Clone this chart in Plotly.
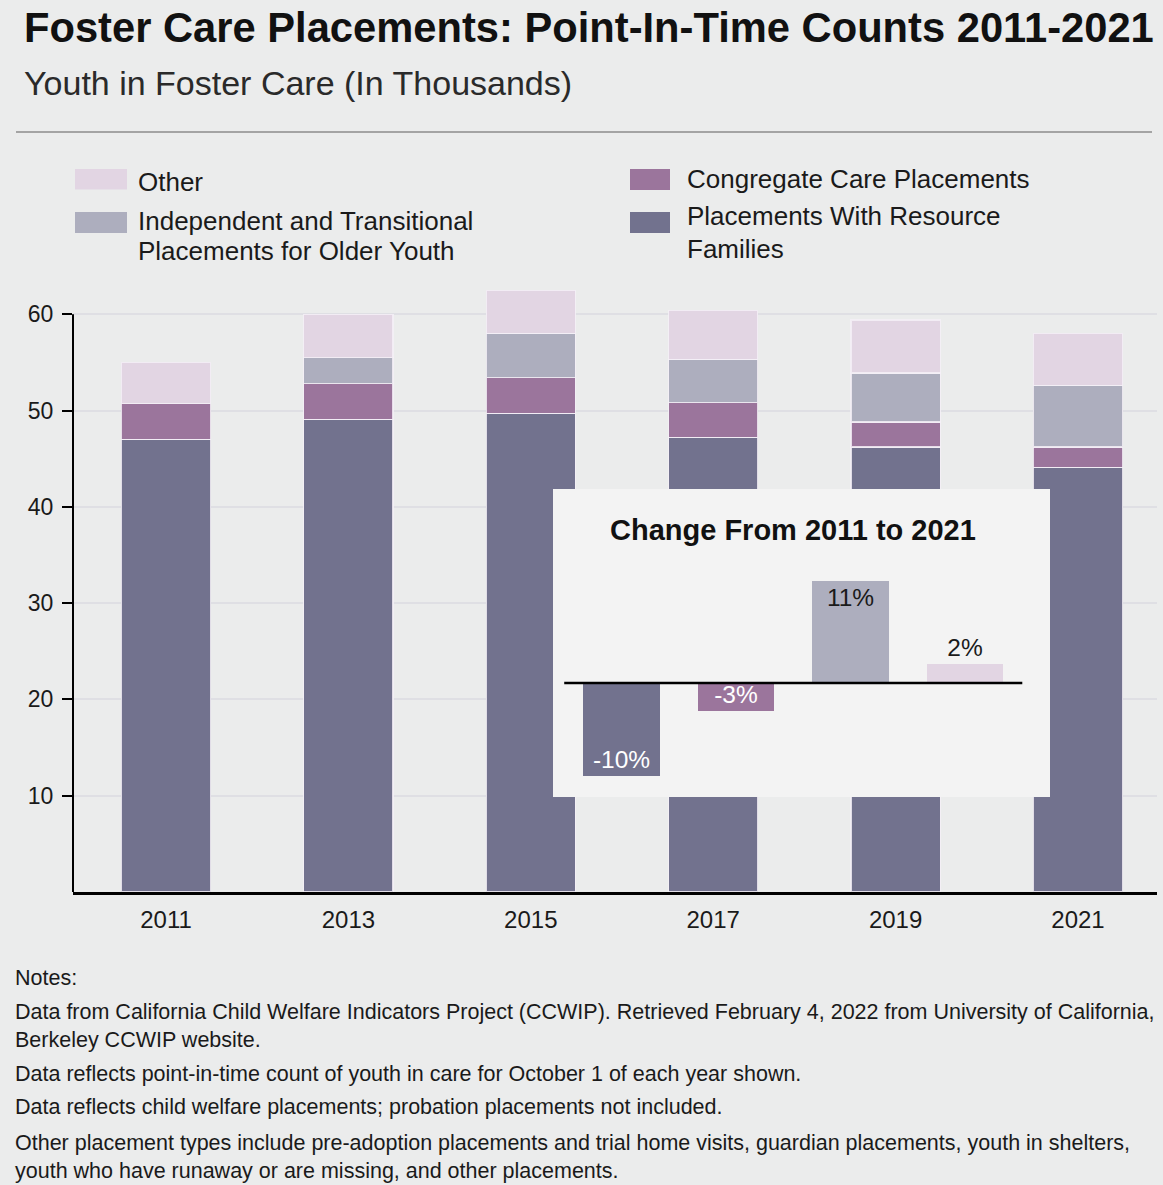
import plotly.graph_objects as go

# Canvas size in pixels
W, H = 1163, 1185

# Point-in-time counts (thousands) by placement type
years = [2011, 2013, 2015, 2017, 2019, 2021]
resource_families = [47.0, 49.1, 49.7, 47.2, 46.2, 44.1]
congregate_care = [3.7, 3.7, 3.7, 3.6, 2.6, 2.1]
independent_transitional = [0.0, 2.7, 4.6, 4.5, 5.1, 6.4]
other = [4.3, 4.5, 4.5, 5.1, 5.5, 5.4]

# Change in share of placements, 2011 to 2021 (percent)
change_types = ["Resource Families", "Congregate Care", "Independent and Transitional", "Other"]
change_pct = [-10, -3, 11, 2]

y_ticks = [10, 20, 30, 40, 50, 60]

RESOURCE = "#72728e"
CONGREGATE = "#9b759c"
INDEPENDENT = "#adaebe"
OTHER = "#e2d5e3"
BG = "#ebecec"
INSET_BG = "#f3f3f3"
FONT = "Liberation Sans, Arial, Helvetica, sans-serif"


def px(x):
    return x / W


def py(y):
    return 1 - y / H


fig = go.Figure()

series = [
    ("Placements With Resource Families", resource_families, RESOURCE),
    ("Congregate Care Placements", congregate_care, CONGREGATE),
    ("Independent and Transitional Placements for Older Youth", independent_transitional, INDEPENDENT),
    ("Other", other, OTHER),
]
for name, vals, color in series:
    fig.add_trace(go.Bar(
        x=years, y=vals, name=name, width=0.98,
        marker=dict(color=color, line=dict(color="rgba(244,240,247,0.85)", width=1.2)),
        showlegend=False, hoverinfo="skip",
    ))

# Inset: change in share
fig.add_trace(go.Bar(
    x=list(range(len(change_pct))), y=change_pct, xaxis="x2", yaxis="y2",
    width=0.67, marker=dict(color=[RESOURCE, CONGREGATE, INDEPENDENT, OTHER], line=dict(width=0)),
    text=[f"{v}%" for v in change_pct],
    textposition=["inside", "inside", "inside", "outside"],
    insidetextanchor="end", constraintext="none", cliponaxis=False,
    textfont=dict(family=FONT, size=24.5, color=["white", "white", "#1a1a1a", "#1a1a1a"]),
    showlegend=False, hoverinfo="skip",
))

plot_left, plot_right, plot_bottom = 73, 1157, 892
unit = 9.63  # px per thousand
y_top = 63
x0_px, step_px = 166, 91.2  # 2011 position, px per year

shapes = []
annotations = []

# inset background
ix_min, ix_max = -0.598, 3.742
iy_min, iy_max = -12.26, 20.86
shapes.append(dict(type="rect", xref="x2", yref="y2", x0=ix_min, x1=ix_max, y0=iy_min, y1=iy_max,
                   fillcolor=INSET_BG, line=dict(width=0), layer="below"))
shapes.append(dict(type="line", xref="x2", yref="y2", x0=-0.5, x1=3.5, y0=0, y1=0,
                   line=dict(color="black", width=2.5), layer="above"))

# y-axis spine up to the top tick
shapes.append(dict(type="line", xref="paper", yref="y", x0=px(plot_left), x1=px(plot_left), y0=0, y1=60,
                   line=dict(color="black", width=2), layer="above"))

# rule under the subtitle
shapes.append(dict(type="line", xref="paper", yref="paper", x0=px(16), x1=px(1152), y0=py(132), y1=py(132),
                   line=dict(color="#8c8c8c", width=1.5)))

# legend swatches
legend_items = [
    (75, 127, 169, 189.5, OTHER),
    (75, 127, 212, 233, INDEPENDENT),
    (630, 670, 169, 190, CONGREGATE),
    (630, 670, 212, 233, RESOURCE),
]
for x0, x1, y0, y1, c in legend_items:
    shapes.append(dict(type="rect", xref="paper", yref="paper", x0=px(x0), x1=px(x1), y0=py(y1), y1=py(y0),
                       fillcolor=c, line=dict(width=0)))


def text(x, y, s, size, bold=False, color="#1a1a1a", anchor="left"):
    annotations.append(dict(
        xref="paper", yref="paper", x=px(x), y=py(y), xanchor=anchor, yanchor="middle",
        text=f"<b>{s}</b>" if bold else s, showarrow=False,
        font=dict(family=FONT, size=size, color=color),
    ))


text(22, 27, "Foster Care Placements: Point-In-Time Counts 2011-2021", 41.7, bold=True, color="#111111")
text(22, 83, "Youth in Foster Care (In Thousands)", 34, color="#2a2a2a")

text(136, 182, "Other", 26)
text(136, 221, "Independent and Transitional", 26)
text(136, 251, "Placements for Older Youth", 26)
text(685, 179, "Congregate Care Placements", 26)
text(685, 216, "Placements With Resource", 26)
text(685, 249, "Families", 26)

annotations.append(dict(
    xref="x2", yref="paper", x=1.5, y=py(530), xanchor="center", yanchor="middle",
    text="<b>Change From 2011 to 2021</b>", showarrow=False,
    font=dict(family=FONT, size=29, color="#111111"),
))

notes = [
    (978, "Notes:"),
    (1011.5, "Data from California Child Welfare Indicators Project (CCWIP). Retrieved February 4, 2022 from University of California,"),
    (1040, "Berkeley CCWIP website."),
    (1074, "Data reflects point-in-time count of youth in care for October 1 of each year shown."),
    (1106.5, "Data reflects child welfare placements; probation placements not included."),
    (1142.5, "Other placement types include pre-adoption placements and trial home visits, guardian placements, youth in shelters,"),
    (1171, "youth who have runaway or are missing, and other placements."),
]
for y, s in notes:
    text(13, y, s, 21.5, color="#1a1a1a")

fig.update_layout(
    width=W, height=H,
    margin=dict(l=0, r=0, t=0, b=0),
    paper_bgcolor=BG, plot_bgcolor=BG,
    barmode="stack",
    font=dict(family=FONT, color="#1a1a1a"),
    shapes=shapes, annotations=annotations,
    xaxis=dict(
        domain=[px(plot_left), px(plot_right)],
        range=[2011 - (x0_px - plot_left) / step_px, 2021 + (plot_right - (x0_px + 10 * step_px)) / step_px],
        tickvals=years, ticktext=[str(y) for y in years],
        showline=True, linecolor="black", linewidth=3,
        ticks="", showgrid=False, zeroline=False,
        tickfont=dict(size=24, color="#1a1a1a"), ticklabelstandoff=4,
        fixedrange=True,
    ),
    yaxis=dict(
        domain=[py(plot_bottom), py(plot_bottom - y_top * unit)],
        range=[0, y_top], tickvals=y_ticks,
        ticks="outside", ticklen=10, tickwidth=2, tickcolor="black",
        showgrid=True, gridcolor="#dfdfe4", gridwidth=2,
        showline=False, zeroline=False,
        tickfont=dict(size=23, color="#1a1a1a"), ticklabelstandoff=4,
        fixedrange=True,
    ),
    xaxis2=dict(domain=[px(553), px(1050)], range=[ix_min, ix_max], visible=False, anchor="y2", fixedrange=True),
    yaxis2=dict(domain=[py(797), py(489)], range=[iy_min, iy_max], visible=False, anchor="x2", fixedrange=True),
)

fig.write_html("out.html")
